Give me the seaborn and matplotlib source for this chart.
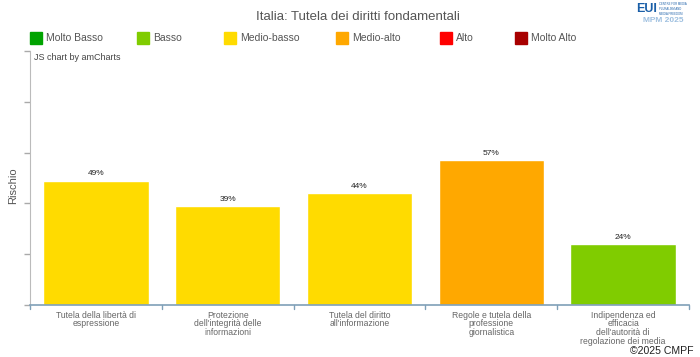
import matplotlib
matplotlib.use("Agg")
import matplotlib.pyplot as plt
import seaborn as sns
import pandas as pd
from matplotlib.patches import Rectangle

# dati
categorie = [
    "Tutela della libertà di\nespressione",
    "Protezione\ndell'integrità delle\ninformazioni",
    "Tutela del diritto\nall'informazione",
    "Regole e tutela della\nprofessione\ngiornalistica",
    "Indipendenza ed\nefficacia\ndell'autorità di\nregolazione dei media",
]
valori = [49, 39, 44, 57, 24]
livelli = ["Medio-basso", "Medio-basso", "Medio-basso", "Medio-alto", "Basso"]

legenda_livelli = ["Molto Basso", "Basso", "Medio-basso", "Medio-alto", "Alto", "Molto Alto"]
legenda_colori = ["#00a300", "#80cc00", "#ffdb00", "#ffa800", "#ff0000", "#a80000"]
colori = dict(zip(legenda_livelli, legenda_colori))

df = pd.DataFrame({"cat": categorie, "val": valori, "liv": livelli})

sns.set_style("white")
plt.rcParams["font.family"] = ["Liberation Sans", "DejaVu Sans"]

W, H = 700, 357
fig = plt.figure(figsize=(W / 100, H / 100), dpi=100)
ax = fig.add_axes([30 / W, (H - 305) / H, (689 - 30) / W, (305 - 51) / H])

sns.barplot(data=df, x="cat", y="val", hue="liv", palette=colori, dodge=False,
            width=0.8, legend=False, ax=ax, saturation=1)

for i, v in enumerate(valori):
    ax.text(i, v + 1.2, f"{v}%", ha="center", va="bottom", fontsize=6, color="#222222")

ax.set_ylim(0, 100)
ax.set_xlim(-0.5, len(categorie) - 0.5)
ax.set_yticks([0, 20, 40, 60, 80, 100])
ax.set_yticklabels([])
ax.set_xlabel("")
ax.set_ylabel("Rischio", fontsize=8, color="#555555")
ax.yaxis.set_label_coords(-12 / (689 - 30), 0.47)
ax.set_xticks(range(len(categorie)))
ax.set_xticklabels(categorie, fontsize=6.2, color="#666666", linespacing=0.95)
ax.tick_params(axis="x", length=0, pad=4)
ax.tick_params(axis="y", left=True, length=4, color="#aaaaaa", width=1)
# separatori categorie sull'asse x
for b in [i + 0.5 for i in range(-1, len(categorie))]:
    ax.plot([b, b], [-1.5, 0], color="#7fa0b8", lw=1, clip_on=False)

for s in ["top", "right"]:
    ax.spines[s].set_visible(False)
ax.spines["left"].set_color("#bbbbbb")
ax.spines["bottom"].set_color("#7fa0b8")
ax.spines["bottom"].set_linewidth(1.2)

# titolo
fig.text(358 / W, 1 - 17 / H, "Italia: Tutela dei diritti fondamentali",
         ha="center", va="center", fontsize=9.5, color="#555555")

# legenda
leg_x = [30, 137, 224, 336, 440, 515]
for x, nome, col in zip(leg_x, legenda_livelli, legenda_colori):
    fig.patches.append(Rectangle((x / W, 1 - 44 / H), 12 / W, 12 / H,
                                 transform=fig.transFigure, color=col))
    fig.text((x + 16) / W, 1 - 38 / H, nome, ha="left", va="center",
             fontsize=7.5, color="#555555")

fig.text(34 / W, 1 - 57 / H, "JS chart by amCharts", ha="left", va="center",
         fontsize=6.5, color="#444444")

# logo
fig.text(636 / W, 1 - 9 / H, "EUI", ha="left", va="center", fontsize=9,
         fontweight="bold", color="#1a5fa8")
fig.text(659 / W, 1 - 9 / H, "CENTRE FOR MEDIA\nPLURALISM AND\nMEDIA FREEDOM",
         ha="left", va="center", fontsize=2, color="#1a5fa8")
fig.text(663 / W, 1 - 21 / H, "MPM 2025", ha="center", va="center", fontsize=6,
         fontweight="bold", color="#9fc0e0")

fig.text(693 / W, 1 - 356.5 / H, "©2025 CMPF", ha="right", va="bottom",
         fontsize=7.6, color="#222222")

fig.savefig("out.png", dpi=100)
